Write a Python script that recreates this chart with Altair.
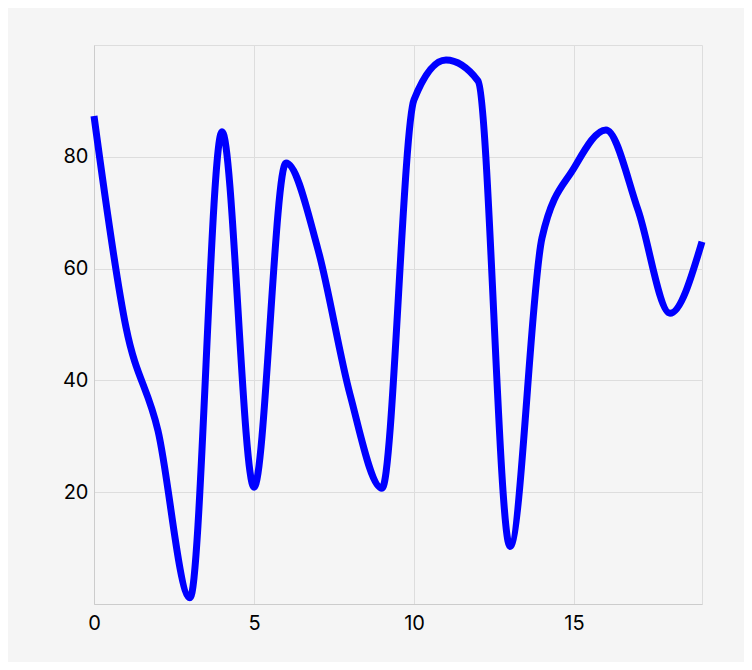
import altair as alt
import pandas as pd

x_vals = list(range(20))
y_vals = [87.3, 49.5, 31.0, 1.1, 84.5, 20.9, 78.9, 63.4, 37.5, 20.7,
          90.2, 97.3, 93.6, 10.3, 65.5, 78.0, 84.8, 70.5, 52.0, 64.8]

df = pd.DataFrame({"x": x_vals, "y": y_vals})

chart = alt.Chart(df).mark_line(
    color="#0000ff", strokeWidth=7, interpolate="monotone"
).encode(
    x=alt.X("x:Q", scale=alt.Scale(domain=[0, 19], nice=False),
            axis=alt.Axis(values=[0, 5, 10, 15], title=None, ticks=False,
                          labelFlush=False, labelPadding=9,
                          domainColor="#cccccc")),
    y=alt.Y("y:Q", scale=alt.Scale(domain=[0, 100], nice=False, zero=False),
            axis=alt.Axis(values=[20, 40, 60, 80], title=None, ticks=False,
                          labelFlush=False, labelPadding=6,
                          domainColor="#cccccc")),
).properties(
    width=608, height=559,
    background="#f5f5f5",
    padding={"left": 86, "top": 37, "right": 42, "bottom": 58},
    autosize=alt.AutoSizeParams(type="none"),
).configure_axis(
    labelFont="Inter", labelFontSize=20, labelColor="#000000",
    gridColor="#dddddd", gridWidth=1,
).configure_view(stroke="#dddddd")

chart.save("out.html", embed_options={"renderer": "svg", "actions": False})
